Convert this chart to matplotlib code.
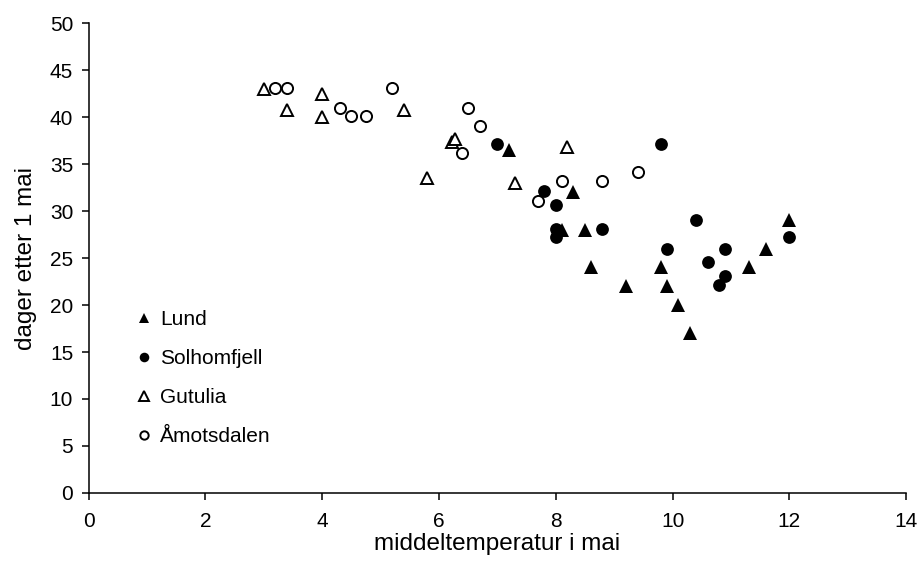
"""
Dager etter 1 mai mot middeltemperatur i mai for fire lokaliteter.
"""
import matplotlib
matplotlib.use('Agg')
import matplotlib.pyplot as plt

plt.rcParams['font.family'] = ['Liberation Sans', 'DejaVu Sans']

# Lund (fylte trekanter)
lund_temp = [7.2, 8.3, 8.1, 8.5, 8.6, 9.8, 9.2, 9.9, 10.1, 10.3, 11.3, 11.6, 12.0]
lund_dager = [36.5, 32, 28, 28, 24, 24, 22, 22, 20, 17, 24, 26, 29]

# Solhomfjell (fylte sirkler)
solhom_temp = [7.0, 9.8, 7.8, 8.0, 8.0, 8.0, 8.8, 10.4, 9.9, 10.9, 10.6, 10.9,
               10.8, 12.0]
solhom_dager = [37.1, 37.1, 32.1, 30.6, 28.1, 27.2, 28.1, 29, 26, 26, 24.6,
                23.1, 22.1, 27.2]

# Gutulia (åpne trekanter)
gutulia_temp = [3.0, 3.4, 4.0, 4.0, 5.4, 5.8, 6.22, 6.27, 7.3, 8.2]
gutulia_dager = [43, 40.8, 42.4, 40, 40.8, 33.5, 37.3, 37.7, 33, 36.8]

# Åmotsdalen (åpne sirkler)
amots_temp = [3.2, 3.4, 4.3, 4.5, 4.75, 5.2, 6.5, 6.7, 6.4, 7.7, 8.1, 8.8, 9.4]
amots_dager = [43.1, 43.1, 41, 40.1, 40.1, 43.1, 41, 39, 36.2, 31.1, 33.2,
               33.2, 34.1]

fig = plt.figure(figsize=(9.2, 5.62), dpi=100)
ax = fig.add_axes([0.0962, 0.1228, 0.8888, 0.8362])

ms = 10
mew = 1.4
ax.plot(lund_temp, lund_dager, '^', color='black', ms=ms, mew=0,
        label='Lund', clip_on=False)
ax.plot(solhom_temp, solhom_dager, 'o', color='black', ms=ms - 0.8, mew=0,
        label='Solhomfjell', clip_on=False)
ax.plot(gutulia_temp, gutulia_dager, '^', mfc='white', mec='black', ms=ms - 1.2,
        mew=mew, label='Gutulia', clip_on=False)
ax.plot(amots_temp, amots_dager, 'o', mfc='white', mec='black', ms=ms - 2,
        mew=mew, label='Åmotsdalen', clip_on=False)

ax.set_xlim(0, 14)
ax.set_ylim(0, 50)
ax.set_xticks(range(0, 15, 2))
ax.set_yticks(range(0, 51, 5))
for side in ('top', 'right'):
    ax.spines[side].set_visible(False)
for side in ('left', 'bottom'):
    ax.spines[side].set_linewidth(1.1)
ax.tick_params(direction='out', length=5, width=1.1, labelsize=15)
ax.tick_params(axis='x', pad=9)
ax.tick_params(axis='y', pad=6)
ax.set_xlabel('middeltemperatur i mai', fontsize=17.5, labelpad=1)
ax.set_ylabel('dager etter 1 mai', fontsize=17.5, labelpad=9)

ax.legend(loc='upper left', bbox_to_anchor=(0.047, 0.411), frameon=False,
          fontsize=15, markerscale=0.75, handlelength=0.6,
          handletextpad=0.5, labelspacing=0.96, borderpad=0)

plt.savefig('out.png', dpi=100)
